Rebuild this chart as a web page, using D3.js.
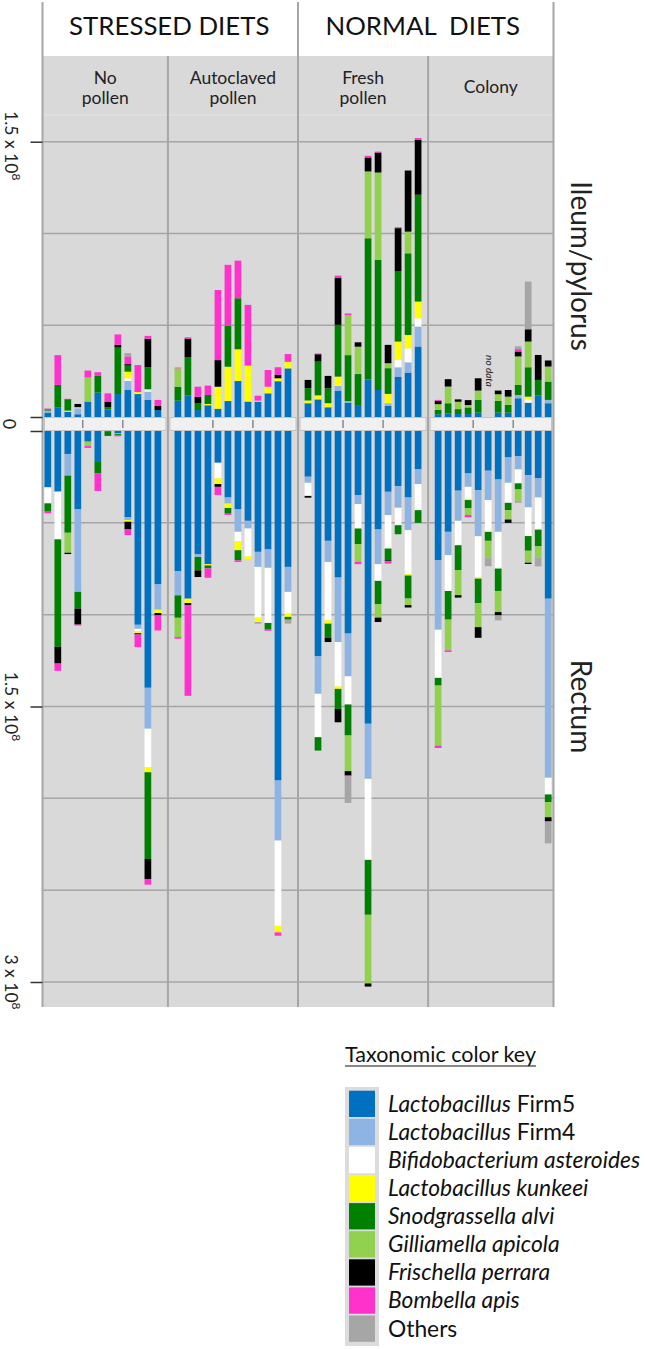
<!DOCTYPE html>
<html>
<head>
<meta charset="utf-8">
<script src="https://cdn.jsdelivr.net/npm/d3@7"></script>
<style>
  body { margin: 0; background: #fff; }
  svg { display: block; font-family: Lato, "Open Sans", sans-serif; }
</style>
</head>
<body>
<div id="chart"></div>
<script>
// taxa in stacking order (closest to zero first)
const taxa = ["Lactobacillus Firm5", "Lactobacillus Firm4", "Bifidobacterium asteroides",
    "Lactobacillus kunkeei", "Snodgrassella alvi", "Gilliamella apicola",
    "Frischella perrara", "Bombella apis", "Others"];
const taxaColors = ["#0070c0", "#8db4e2", "#ffffff", "#ffff00", "#008000", "#92d050",
    "#000000", "#ff33cc", "#a6a6a6"];
// [italic part, roman part]
const legendLabels = [["Lactobacillus", " Firm5"], ["Lactobacillus", " Firm4"],
    ["Bifidobacterium asteroides", ""], ["Lactobacillus kunkeei", ""],
    ["Snodgrassella alvi", ""], ["Gilliamella apicola", ""], ["Frischella perrara", ""],
    ["Bombella apis", ""], ["", "Others"]];

const dietNames = ["STRESSED DIETS", "NORMAL  DIETS"];
const groupNames = [["No", "pollen"], ["Autoclaved", "pollen"], ["Fresh", "pollen"], ["Colony"]];

// abundances in millions, one row per bee, columns follow `taxa`
const ileumNoPollen = [
    [2.4, 1.1, 0, 0, 0.7, 0, 0, 0.4, 0],
    [5.3, 0, 0, 0, 12.2, 0, 0, 16.2, 0],
    [2.9, 0, 0, 0.6, 5.8, 0, 0.3, 0.3, 0],
    [1.5, 3.3, 0.5, 0, 0, 0, 1.8, 0, 0],
    [8.4, 0, 0, 0, 0, 13.1, 0, 3.8, 0],
    [13.3, 0, 0, 0, 9.1, 0, 0, 2.0, 0],
    [4.2, 0, 0, 0, 1.1, 0, 3.1, 4.5, 0],
    [12.5, 0, 0, 0, 25.3, 0, 1.6, 5.6, 0],
    [14.7, 4.9, 1.5, 3.6, 3.3, 0, 0.8, 4.2, 1.8],
    [12.5, 0, 0, 1.1, 0, 0, 0, 14.7, 0],
    [9.3, 4.5, 1.3, 0, 12.0, 0, 15.5, 1.6, 0],
    [3.8, 0, 0, 0, 0, 0, 2.2, 3.3, 0]
];
const ileumAutoclaved = [
    [8.9, 0, 0, 0, 7.6, 10.0, 0, 0.3, 0.3],
    [11.8, 0, 0, 0, 20.7, 0, 10.2, 0.7, 0],
    [3.8, 0, 0, 0, 3.6, 0, 3.6, 5.5, 0],
    [6.4, 0, 0, 0.7, 4.9, 0, 0, 5.1, 0],
    [4.5, 0, 0, 12.0, 0, 0, 14.5, 38.2, 0],
    [8.7, 0, 0, 18.7, 22.2, 0, 0, 33.3, 0],
    [19.6, 0, 0, 17.3, 27.8, 0, 0, 20.5, 0],
    [8.4, 0, 0, 19.6, 0, 0, 0, 33.1, 0],
    [8.4, 0, 0, 0.5, 0, 0, 0, 2.7, 0],
    [12.9, 0, 0, 3.6, 0, 0, 0, 9.1, 0],
    [19.5, 0, 0, 1.6, 0, 0, 1.8, 4.2, 0],
    [26.5, 0, 0, 3.6, 0, 0, 0, 4.2, 0]
];
const ileumFresh = [
    [7.5, 0, 0, 1.5, 6.7, 0, 4.5, 0, 0],
    [9.6, 0, 0, 2.2, 18.4, 0, 4.0, 0.4, 0],
    [5.3, 0, 0, 2.2, 8.2, 0, 6.7, 0, 0],
    [14.4, 2.5, 0, 5.1, 28.2, 0, 25.5, 1.3, 0],
    [7.8, 0.9, 0, 0, 25.0, 21.8, 0, 0.9, 0],
    [6.5, 0, 0, 0, 16.9, 14.9, 2.4, 0, 0],
    [20.5, 0, 0, 0, 76.9, 36.4, 7.6, 0.9, 0],
    [14.7, 0, 0, 0, 70.9, 47.6, 10.9, 0.5, 0],
    [6.0, 1.5, 0, 5.1, 14.0, 2.7, 10.0, 0, 0],
    [22.0, 5.1, 4.0, 10.0, 38.2, 0, 23.6, 0.5, 0],
    [24.2, 5.6, 7.6, 7.3, 44.5, 11.8, 33.3, 0, 0],
    [38.4, 10.9, 4.5, 9.1, 58.2, 0, 30.0, 0.9, 0]
];
const ileumColony = [
    [1.5, 0, 0, 0, 2.4, 3.1, 1.8, 0.5, 0],
    [2.0, 0, 0, 0, 5.5, 9.1, 4.0, 0, 0],
    [1.6, 0, 0, 0, 2.7, 4.0, 1.3, 0, 0],
    [1.6, 0, 0, 0, 3.6, 1.3, 2.7, 0, 0],
    [2.4, 0, 0, 0, 6.9, 5.1, 6.7, 0, 0],
    null, // no data
    [2.4, 0, 0, 0, 6.4, 3.6, 2.0, 0, 0],
    [2.4, 0, 0, 0, 4.2, 4.5, 3.6, 0, 0],
    [10.2, 1.8, 0, 0, 5.5, 15.5, 2.7, 1.3, 1.5],
    [7.8, 0, 1.8, 1.5, 16.0, 14.0, 6.7, 0, 26.0],
    [11.8, 0, 0, 0, 8.4, 0, 13.6, 0, 0],
    [7.5, 1.8, 0, 0, 10.0, 8.2, 3.3, 0, 0]
];
const rectumNoPollen = [
    [30.7, 0, 8.7, 0, 4.5, 0, 0, 0.9, 0],
    [33.0, 0, 26.0, 0, 58.5, 0, 9.1, 4.0, 0],
    [12.5, 11.8, 0, 0, 31.1, 10.9, 0.7, 0, 0],
    [42.7, 44.9, 0, 0, 9.1, 0, 8.7, 0.5, 0],
    [5.8, 0, 0, 0, 0, 2.4, 0, 1.0, 0],
    [16.4, 0, 0, 0, 6.7, 0, 0, 9.6, 0],
    [0.5, 0, 0, 0, 1.8, 0, 0.3, 0, 0],
    [1.3, 0.4, 0, 0, 0.7, 0, 0, 0.5, 0],
    [47.0, 1.5, 0, 0.9, 0, 0, 4.2, 3.1, 0],
    [105.5, 2.2, 1.3, 1.1, 0, 0, 0.7, 6.9, 0],
    [139.8, 22.3, 20.9, 2.8, 47.2, 0, 10.9, 3.1, 0],
    [83.5, 13.8, 0, 1.8, 0, 0, 1.3, 8.2, 0]
];
const rectumAutoclaved = [
    [76.4, 13.1, 0, 0, 12.2, 10.5, 0, 0.9, 0],
    [91.3, 0, 0, 2.4, 0, 0, 1.0, 49.5, 0],
    [67.1, 1.5, 0, 0, 7.3, 0, 3.6, 0, 0],
    [72.5, 0, 0, 0.7, 1.6, 0, 0, 5.1, 0],
    [17.3, 0, 8.5, 3.1, 0, 0, 1.5, 4.5, 0],
    [36.2, 3.3, 0, 2.4, 3.1, 0, 0, 0.7, 0],
    [42.7, 12.2, 5.1, 4.9, 5.5, 0, 0, 0.9, 0],
    [48.9, 4.2, 15.1, 1.6, 0, 0, 0, 0, 0],
    [65.8, 8.2, 27.6, 2.4, 0, 0, 0, 0, 0.9],
    [64.5, 10.0, 30.0, 0, 3.6, 0, 0, 0.7, 0],
    [190.3, 32.7, 46.4, 3.6, 0, 0, 0, 1.8, 0],
    [74.0, 13.6, 11.8, 1.8, 1.5, 0, 0, 0, 2.2]
];
const rectumFresh = [
    [24.9, 3.3, 6.7, 0.5, 0, 0, 0.9, 0, 0],
    [122.7, 20.4, 23.6, 0, 7.3, 0, 0, 0, 0],
    [59.8, 11.5, 31.8, 1.8, 7.8, 0, 2.2, 0, 0],
    [79.8, 35.1, 24.2, 1.3, 10.9, 0, 7.3, 0, 0],
    [110.3, 23.3, 15.3, 0, 16.9, 19.4, 2.4, 0.5, 14.4],
    [34.9, 4.9, 13.3, 0, 8.5, 9.6, 0, 1.3, 0],
    [159.4, 30.0, 44.1, 0, 29.9, 37.4, 1.7, 0, 0],
    [53.6, 18.9, 9.1, 0, 12.7, 7.3, 2.4, 0, 0],
    [33.1, 12.7, 18.2, 0, 6.4, 0, 0.5, 1.3, 0],
    [30.0, 11.8, 9.5, 0, 4.9, 0, 0, 0, 0],
    [36.2, 17.8, 24.0, 0.7, 12.5, 3.6, 1.3, 0, 0],
    [20.9, 8.0, 14.2, 0, 6.9, 0, 0, 0, 0]
];
const rectumColony = [
    [70.4, 37.8, 26.2, 0, 4.2, 32.7, 0, 1.3, 0],
    [54.9, 12.7, 19.5, 0, 15.6, 16.7, 0, 0.9, 0],
    [32.5, 16.4, 13.3, 0, 13.6, 13.6, 1.3, 0, 0],
    [23.1, 7.3, 6.5, 0.7, 4.5, 3.6, 0, 1.3, 0],
    [32.2, 25.1, 22.2, 0.9, 13.3, 13.1, 5.8, 0, 0],
    [21.6, 16.0, 17.3, 0, 4.9, 9.1, 0, 0, 4.7],
    [26.4, 28.5, 20.0, 0, 12.2, 11.5, 1.8, 0, 2.7],
    [14.4, 13.8, 10.9, 0, 4.0, 5.1, 1.8, 0, 0],
    [13.6, 7.3, 7.6, 0, 3.3, 6.2, 0, 0, 1.1],
    [24.0, 17.6, 15.6, 0, 8.0, 6.5, 0.7, 0, 0],
    [25.8, 10.4, 17.5, 0, 9.1, 6.2, 0, 0, 4.7],
    [91.3, 97.5, 9.1, 0, 4.2, 8.2, 2.2, 0.5, 11.5]
];

const ileumGroups = [ileumNoPollen, ileumAutoclaved, ileumFresh, ileumColony];
const rectumGroups = [rectumNoPollen, rectumAutoclaved, rectumFresh, rectumColony];

const width = 645, height = 1349;
const panel = { left: 42.5, right: 553.5, top: 56, bottom: 1007 };
const gridColor = '#a6a6a6';

const svg = d3.select('#chart').append('svg')
    .attr('width', width)
    .attr('height', height);

// one slot per bee, plus an empty slot between diet groups
const slots = [];
groupNames.forEach((g, gi) => {
    d3.range(12).forEach(i => slots.push(`${gi}-${i}`));
    if (gi < groupNames.length - 1) slots.push(`gap${gi}`);
});
const x = d3.scaleBand()
    .domain(slots)
    .range([42.8, 553.2])
    .paddingInner(0.33)
    .paddingOuter(0.165);
const bw = x.bandwidth();

const yIleum = d3.scaleLinear().domain([0, 150]).range([417, 141.7]);
const yRectum = d3.scaleLinear().domain([0, 300]).range([431, 982]);

// group boundaries
const dividers = [0, 1, 2].map(i => x(`gap${i}`) + bw / 2);
const bounds = [panel.left, ...dividers, panel.right];

// background
svg.append('rect')
    .attr('x', panel.left).attr('y', panel.top)
    .attr('width', panel.right - panel.left).attr('height', panel.bottom - panel.top)
    .attr('fill', '#d9d9d9');
svg.append('line')
    .attr('x1', panel.left).attr('x2', panel.right)
    .attr('y1', 115).attr('y2', 115)
    .attr('stroke', '#e4e4e4').attr('stroke-width', 1);

// horizontal gridlines
const grid = svg.append('g');
[50, 100, 150].forEach(v => {
    grid.append('line')
        .attr('x1', panel.left).attr('x2', panel.right)
        .attr('y1', yIleum(v)).attr('y2', yIleum(v))
        .attr('stroke', gridColor).attr('stroke-width', 1.5);
});
[50, 100, 150, 200, 250, 300].forEach(v => {
    grid.append('line')
        .attr('x1', panel.left).attr('x2', panel.right)
        .attr('y1', yRectum(v)).attr('y2', yRectum(v))
        .attr('stroke', gridColor).attr('stroke-width', 1.5);
});

// vertical lines: panel edges and dividers
[panel.left, dividers[1], panel.right].forEach(v => {
    grid.append('line')
        .attr('x1', v).attr('x2', v).attr('y1', 2).attr('y2', panel.bottom)
        .attr('stroke', gridColor).attr('stroke-width', 2);
});
[dividers[0], dividers[2]].forEach(v => {
    grid.append('line')
        .attr('x1', v).attr('x2', v).attr('y1', panel.top).attr('y2', panel.bottom)
        .attr('stroke', gridColor).attr('stroke-width', 2);
});

// zero strips with replicate ticks
groupNames.forEach((g, gi) => {
    svg.append('rect')
        .attr('x', bounds[gi] + 2).attr('y', 417.5)
        .attr('width', bounds[gi + 1] - bounds[gi] - 4).attr('height', 13)
        .attr('fill', '#f0f0f0').attr('stroke', '#c4c4c4').attr('stroke-width', 1);
    [3, 7].forEach(i => {
        const tx = (x(`${gi}-${i}`) + bw + x(`${gi}-${i + 1}`)) / 2;
        svg.append('line')
            .attr('x1', tx).attr('x2', tx).attr('y1', 420).attr('y2', 428)
            .attr('stroke', '#555').attr('stroke-width', 1);
    });
});

// stacked bars
const stack = d3.stack().keys(d3.range(taxa.length)).value((d, k) => d.values[k]);

function drawSection(groups, yScale, downward) {
    const bars = [];
    groups.forEach((rows, gi) => rows.forEach((values, i) => {
        if (values) bars.push({ slot: `${gi}-${i}`, values });
    }));
    const series = stack(bars);
    svg.append('g')
        .selectAll('g')
        .data(series)
        .join('g')
        .attr('fill', s => taxaColors[s.key])
        .selectAll('rect')
        .data(s => s.filter(d => d[1] - d[0] > 0))
        .join('rect')
        .attr('x', d => x(d.data.slot))
        .attr('width', bw)
        .attr('y', d => downward ? yScale(d[0]) : yScale(d[1]))
        .attr('height', d => Math.abs(yScale(d[1]) - yScale(d[0])));
}
drawSection(ileumGroups, yIleum, false);
drawSection(rectumGroups, yRectum, true);

// left axis ticks
svg.append('g')
    .attr('transform', `translate(${panel.left},0)`)
    .call(d3.axisLeft(yIleum).tickValues([0, 150]).tickSize(12).tickFormat(''))
    .call(g => g.select('.domain').remove())
    .call(g => g.selectAll('line').attr('stroke', '#333').attr('stroke-width', 1.5));
svg.append('g')
    .attr('transform', `translate(${panel.left},0)`)
    .call(d3.axisLeft(yRectum).tickValues([0, 150, 300]).tickSize(12).tickFormat(''))
    .call(g => g.select('.domain').remove())
    .call(g => g.selectAll('line').attr('stroke', '#333').attr('stroke-width', 1.5));

// rotated axis labels (text reads top to bottom)
function sciLabel(mant, cy) {
    const t = svg.append('text')
        .attr('transform', `translate(5,${cy}) rotate(90)`)
        .attr('text-anchor', 'middle')
        .attr('font-size', 17.5)
        .attr('fill', '#222');
    t.append('tspan').text(`${mant} x 10`);
    t.append('tspan').attr('dy', -7).attr('font-size', 12).text('8');
}
sciLabel('1.5', yIleum(150) + 4);
sciLabel('1.5', yRectum(150));
sciLabel('3', yRectum(300));
svg.append('text')
    .attr('transform', `translate(3,${(yIleum(0) + yRectum(0)) / 2}) rotate(90)`)
    .attr('text-anchor', 'middle')
    .attr('font-size', 18)
    .attr('fill', '#222')
    .text('0');

// section labels on the right
svg.append('text')
    .attr('transform', `translate(571,266) rotate(90)`)
    .attr('text-anchor', 'middle').attr('font-size', 28).attr('fill', '#222')
    .text('Ileum/pylorus');
svg.append('text')
    .attr('transform', `translate(571,${yRectum(150)}) rotate(90)`)
    .attr('text-anchor', 'middle').attr('font-size', 28).attr('fill', '#222')
    .text('Rectum');

// no data note
svg.append('text')
    .attr('transform', `translate(485.5,371) rotate(90)`)
    .attr('text-anchor', 'middle').attr('font-size', 10)
    .attr('font-style', 'italic').attr('fill', '#222')
    .text('no data');

// headers
[[bounds[0], bounds[2]], [bounds[2], bounds[4]]].forEach(([a, b], i) => {
    svg.append('text')
        .attr('x', (a + b) / 2 - (i ? 3 : 1)).attr('y', 35)
        .attr('text-anchor', 'middle').attr('font-size', 25.8).attr('fill', '#111')
        .style('white-space', 'pre')
        .text(dietNames[i]);
});
groupNames.forEach((lines, gi) => {
    const cx = (bounds[gi] + bounds[gi + 1]) / 2;
    const base = lines.length === 1 ? [93] : [84, 104];
    lines.forEach((s, li) => {
        svg.append('text')
            .attr('x', cx).attr('y', base[li])
            .attr('text-anchor', 'middle').attr('font-size', 17.5).attr('fill', '#222')
            .text(s);
    });
});

// legend
const legend = svg.append('g');
const title = legend.append('text')
    .attr('x', 345).attr('y', 1062)
    .attr('font-size', 21.5).attr('fill', '#111')
    .text('Taxonomic color key');
const tw = title.node().getComputedTextLength();
legend.append('line')
    .attr('x1', 345).attr('x2', 345 + tw).attr('y1', 1066).attr('y2', 1066)
    .attr('stroke', '#111').attr('stroke-width', 1.2);

legend.append('rect')
    .attr('x', 345).attr('y', 1087).attr('width', 34).attr('height', 259)
    .attr('fill', '#dcdcdc');
taxa.forEach((t, i) => {
    const y0 = 1090.7 + 28.1 * i;
    legend.append('rect')
        .attr('x', 349).attr('y', y0).attr('width', 26).attr('height', 26.3)
        .attr('fill', taxaColors[i]);
    const txt = legend.append('text')
        .attr('x', 388).attr('y', y0 + 21)
        .attr('font-size', 22.8).attr('fill', '#111');
    const [it, rm] = legendLabels[i];
    if (it) txt.append('tspan').attr('font-style', 'italic').text(it);
    if (rm) txt.append('tspan').style('white-space', 'pre').text(rm);
});
</script>
</body>
</html>
